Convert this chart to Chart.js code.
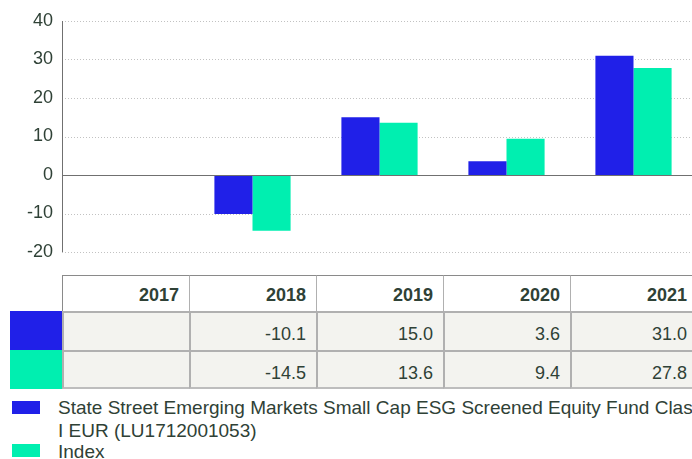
<!DOCTYPE html>
<html>
<head>
<meta charset="utf-8">
<script src="https://cdn.jsdelivr.net/npm/chart.js@4/dist/chart.umd.min.js"></script>
<style>
  html, body { margin:0; padding:0; background:#fff; overflow:hidden; }
  #wrap { position:relative; width:692px; height:459px; overflow:hidden; font-family:"Liberation Sans", Arial, sans-serif; color:#2f4136; }
  #chartBox { position:absolute; left:0; top:0; width:697px; height:272px; }
  .cell { position:absolute; box-sizing:border-box; font-size:18px; text-align:right; padding-right:10px; }
  .hdr { font-weight:bold; background:#fff; }
  .dat { background:#f3f3ef; }
  .sw { position:absolute; }
  .leg { position:absolute; font-size:19px; line-height:23px; }
</style>
</head>
<body>
<div id="wrap">
  <div id="chartBox"><canvas id="c" width="697" height="272"></canvas></div>
  <div id="table"></div>
  <div id="legend"></div>
</div>
<script>
// ---- data ----
const years = ["2017", "2018", "2019", "2020", "2021"];
const fundLabel = "State Street Emerging Markets Small Cap ESG Screened Equity Fund Class I EUR (LU1712001053)";
const indexLabel = "Index";
const fundValues = [null, -10.1, 15.0, 3.6, 31.0];
const indexValues = [null, -14.5, 13.6, 9.4, 27.8];
const yTicks = [-20, -10, 0, 10, 20, 30, 40];

const fundColor = "#2020E8";
const indexColor = "#00EFB0";
const textColor = "#2f4136";

const gridPlugin = {
  id: "customGrid",
  beforeDatasetsDraw(chart) {
    const { ctx, chartArea: a, scales: { y } } = chart;
    ctx.save();
    ctx.strokeStyle = "#c2c2c2";
    ctx.lineWidth = 1;
    ctx.setLineDash([1, 2]);
    y.ticks.forEach(t => {
      if (t.value === 0) return;
      const py = Math.round(y.getPixelForValue(t.value)) + 0.5;
      ctx.beginPath(); ctx.moveTo(a.left, py); ctx.lineTo(a.right, py); ctx.stroke();
    });
    ctx.restore();
  },
  afterDatasetsDraw(chart) {
    const { ctx, chartArea: a, scales: { y } } = chart;
    ctx.save();
    ctx.strokeStyle = "#707070";
    ctx.lineWidth = 1;
    const z = Math.round(y.getPixelForValue(0)) + 0.5;
    ctx.beginPath(); ctx.moveTo(a.left, z); ctx.lineTo(a.right, z); ctx.stroke();
    const x = Math.round(a.left) + 0.5;
    ctx.beginPath(); ctx.moveTo(x, Math.round(a.top)); ctx.lineTo(x, Math.round(a.bottom)); ctx.stroke();
    ctx.restore();
  }
};

const chart = new Chart(document.getElementById("c"), {
  type: "bar",
  data: {
    labels: years,
    datasets: [
      { label: fundLabel, data: fundValues, backgroundColor: fundColor, borderWidth: 0 },
      { label: indexLabel, data: indexValues, backgroundColor: indexColor, borderWidth: 0 }
    ]
  },
  options: {
    responsive: false,
    animation: false,
    devicePixelRatio: 1,
    layout: { padding: { top: 21, bottom: 20, left: 0, right: 0 } },
    plugins: { legend: { display: false }, tooltip: { enabled: false } },
    datasets: { bar: { categoryPercentage: 0.6, barPercentage: 1.0 } },
    scales: {
      x: { display: false },
      y: {
        min: -20, max: 40,
        afterBuildTicks: s => { s.ticks = yTicks.map(v => ({ value: v })); },
        afterFit: s => { s.width = 62; },
        ticks: { font: { family: "Liberation Sans", size: 18 }, color: textColor, padding: 9 },
        grid: { display: false, drawTicks: false },
        border: { display: false }
      }
    }
  },
  plugins: [gridPlugin]
});

// ---- table ----
const table = document.getElementById("table");
function addCell(cls, left, top, w, h, text, styles) {
  const d = document.createElement("div");
  d.className = "cell " + cls;
  Object.assign(d.style, { left: left + "px", top: top + "px", width: w + "px", height: h + "px" }, styles || {});
  d.textContent = text;
  table.appendChild(d);
  return d;
}
const colX0 = 62, colW = 127;
years.forEach((yr, i) => {
  addCell("hdr", colX0 + colW * i, 275, colW, 37, yr, {
    borderTop: "1px solid #8a8a8a",
    borderLeft: "1px solid " + (i === 0 ? "#8a8a8a" : "#b0b0b0"),
    lineHeight: "39px"
  });
});
const rows = [
  { vals: fundValues, color: fundColor },
  { vals: indexValues, color: indexColor }
];
rows.forEach((r, ri) => {
  const top = 312 + 39 * ri;
  const sw = document.createElement("div");
  sw.className = "sw";
  Object.assign(sw.style, { left: "10px", top: (top - 1) + "px", width: "52px", height: "39px", background: r.color });
  table.appendChild(sw);
  years.forEach((yr, i) => {
    const v = r.vals[i];
    addCell("dat", colX0 + colW * i, top - 1, colW, 39, v == null ? "" : v.toFixed(1), {
      borderTop: "2px solid #b0b0b0",
      borderLeft: "2px solid #b0b0b0",
      borderBottom: ri === rows.length - 1 ? "2px solid #bdbdbd" : "none",
      lineHeight: "42px"
    });
  });
});
// ---- legend ----
const legend = document.getElementById("legend");
const legendTops = [401, 444];
chart.data.datasets.forEach((ds, i) => {
  const top = legendTops[i];
  const sw = document.createElement("div");
  sw.className = "sw";
  Object.assign(sw.style, { left: "12px", top: top + "px", width: "28px", height: "13px", background: ds.backgroundColor });
  legend.appendChild(sw);
  const t = document.createElement("div");
  t.className = "leg";
  Object.assign(t.style, { left: "58px", top: (top - (i === 0 ? 5 : 4)) + "px", width: "650px" });
  t.textContent = ds.label;
  legend.appendChild(t);
});
</script>
</body>
</html>
